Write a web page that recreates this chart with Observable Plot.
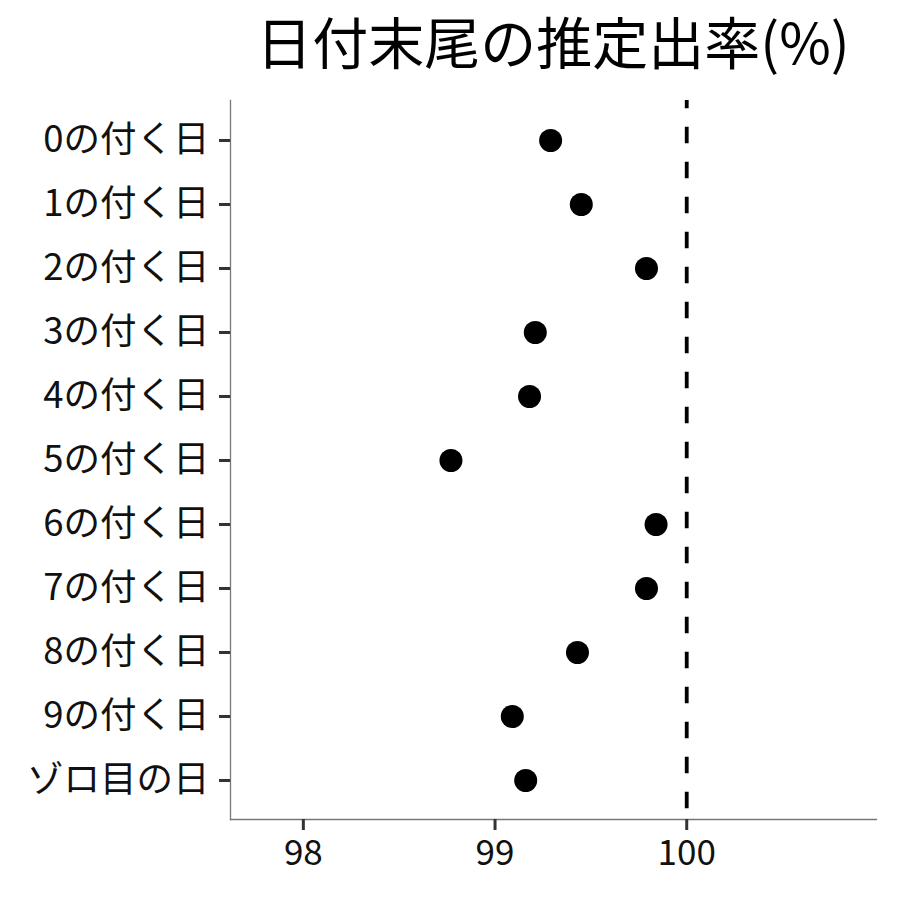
<!DOCTYPE html>
<html>
<head>
<meta charset="utf-8">
<script src="https://cdn.jsdelivr.net/npm/d3@7"></script>
<script src="https://cdn.jsdelivr.net/npm/@observablehq/plot@0.6"></script>
<style>
  body { margin: 0; background: #fff; }
  #title { width: 646px; margin-left: 230px; height: 90px; line-height: 80px; text-align: center;
           font-family: "Noto Sans CJK JP", sans-serif; font-size: 56px; color: #000; white-space: nowrap; }
</style>
</head>
<body>
<div id="title">日付末尾の推定出率(%)</div>
<div id="chart"></div>
<script>
const categories = ["0の付く日","1の付く日","2の付く日","3の付く日","4の付く日","5の付く日","6の付く日","7の付く日","8の付く日","9の付く日","ゾロ目の日"];
const rates = [99.29, 99.45, 99.79, 99.21, 99.18, 98.77, 99.84, 99.79, 99.43, 99.09, 99.16];
const xTicks = [98, 99, 100];
const refValue = [100];
const xDomain = [97.62, 100.99];

const data = categories.map((c, i) => ({category: c, rate: rates[i]}));
const font = '"Noto Sans CJK JP", sans-serif';

const chart = Plot.plot({
  width: 900,
  height: 810,
  marginTop: 10,
  marginBottom: 81,
  marginLeft: 230,
  marginRight: 24,
  style: {fontFamily: font, background: "#fff"},
  x: {domain: xDomain, label: null},
  y: {type: "point", domain: categories, padding: 0.6, label: null},
  marks: [
    Plot.frame({anchor: "left", stroke: "#777", strokeWidth: 1.3}),
    Plot.frame({anchor: "bottom", stroke: "#777", strokeWidth: 1.3}),
    Plot.axisX({ticks: xTicks, tickSize: 11, tickPadding: 10, stroke: "#333", fill: "#111", fontSize: 35, label: null, tickFormat: d => String(d)}),
    Plot.axisY({tickSize: 11, tickPadding: 10, stroke: "#333", fill: "#111", fontSize: 36.5, label: null}),
    Plot.ruleX(refValue, {stroke: "#000", strokeWidth: 3.8, strokeDasharray: "16.6,18.4", strokeDashoffset: 8.3}),
    Plot.dot(data, {x: "rate", y: "category", r: 11.5, fill: "#000", stroke: null})
  ]
});
d3.select(chart).selectAll('g[aria-label="x-axis tick"], g[aria-label="y-axis tick"]')
  .attr("stroke-width", 3).attr("stroke", "#333");
document.getElementById("chart").appendChild(chart);
</script>
</body>
</html>
